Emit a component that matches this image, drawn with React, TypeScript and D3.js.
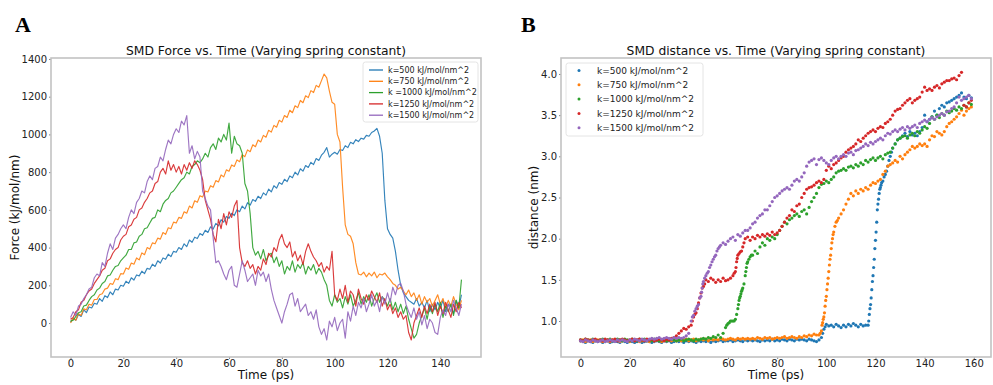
// App.tsx
import React, { useRef, useEffect } from "react";
import * as d3 from "d3";

const colors = ["#1f77b4", "#ff7f0e", "#2ca02c", "#d62728", "#9467bd"];

const forceLabels = [
  "k=500 kJ/mol/nm^2",
  "k=750 kJ/mol/nm^2",
  "k =1000 kJ/mol/nm^2",
  "k=1250 kJ/mol/nm^2",
  "k=1500 kJ/mol/nm^2",
];
const distLabels = [
  "k=500 kJ/mol/nm^2",
  "k=750 kJ/mol/nm^2",
  "k=1000 kJ/mol/nm^2",
  "k=1250 kJ/mol/nm^2",
  "k=1500 kJ/mol/nm^2",
];

const forceTicksX = [0, 20, 40, 60, 80, 100, 120, 140];
const forceTicksY = [0, 200, 400, 600, 800, 1000, 1200, 1400];
const distTicksX = [0, 20, 40, 60, 80, 100, 120, 140, 160];
const distTicksY = [1.0, 1.5, 2.0, 2.5, 3.0, 3.5, 4.0];

// force samples, one per ps from t = 0
const forceStep = 1;
const force500 = [
  5, 25, 15, 45, 35, 70, 55, 85, 80, 105,
  100, 130, 115, 145, 135, 165, 150, 180, 175, 200,
  195, 222, 210, 240, 228, 255, 250, 275, 262, 290,
  285, 312, 300, 330, 318, 345, 338, 365, 352, 380,
  375, 400, 390, 420, 405, 440, 428, 455, 448, 475,
  465, 492, 480, 510, 498, 528, 515, 548, 535, 565,
  555, 582, 570, 600, 590, 620, 605, 638, 625, 655,
  645, 672, 660, 690, 678, 710, 695, 728, 715, 745,
  735, 762, 750, 780, 770, 800, 785, 818, 805, 835,
  825, 852, 840, 872, 862, 890, 905, 930, 880, 895,
  905, 895, 920, 915, 940, 930, 958, 950, 972, 962,
  980, 975, 995, 990, 1010, 1018, 1032, 990, 900, 650,
  500, 470, 450, 380, 280, 200, 160, 140, 120, 110,
  100, 130, 90, 110, 80, 120, 60, 100, 70, 110,
  80, 120, 60, 100, 90, 50, 120, 80, 150,
];
const force750 = [
  0, 25, 15, 50, 40, 75, 70, 100, 95, 125,
  125, 150, 155, 180, 185, 210, 205, 235, 230, 262,
  260, 292, 285, 318, 312, 345, 335, 372, 362, 400,
  392, 425, 420, 450, 445, 480, 470, 505, 500, 535,
  530, 560, 555, 590, 582, 620, 610, 648, 640, 675,
  668, 700, 695, 728, 720, 755, 748, 785, 775, 812,
  805, 838, 830, 865, 855, 892, 882, 918, 908, 945,
  935, 970, 960, 995, 985, 1022, 1012, 1048, 1038, 1075,
  1065, 1100, 1090, 1128, 1115, 1152, 1142, 1180, 1168, 1205,
  1195, 1232, 1222, 1260, 1250, 1285, 1320, 1300, 1230, 1170,
  1160, 1000, 960, 720, 520, 470, 460, 420, 320, 260,
  255, 270, 245, 265, 250, 270, 240, 260, 255, 265,
  245, 230, 210, 200, 180, 190, 170, 150, 175, 140,
  160, 120, 150, 100, 140, 110, 130, 90, 120, 150,
  100, 130, 80, 120, 90, 140, 100, 70, 120,
];
const force1000 = [
  10, 15, 35, 55, 60, 90, 95, 120, 140, 150,
  175, 185, 210, 220, 250, 255, 280, 300, 305, 330,
  345, 360, 390, 390, 425, 430, 460, 470, 500, 505,
  530, 555, 560, 600, 590, 630, 650, 660, 690, 700,
  720, 740, 760, 770, 800, 790, 830, 840, 860, 850,
  870, 900, 880, 930, 950, 920, 980, 960, 1000, 970,
  1060, 900, 990, 950, 940, 900, 740, 700, 580, 400,
  360, 380, 340, 390, 330, 360, 370, 320, 350, 300,
  330, 260, 300, 280, 330, 270, 310, 290, 320, 260,
  300, 280, 310, 260, 290, 270, 230, 200, 120, 90,
  150, 110, 130, 80, 140, 100, 150, 90, 120, 160,
  100, 140, 110, 150, 90, 130, 160, 110, 140, 120,
  90, 130, 70, 110, 60, 100, 50, 90, 20, -30,
  -80, -60, 0, 40, 80, 20, 90, 50, 100, 60,
  110, 30, 90, 60, 100, 40, 120, 80, 230,
];
const force1250 = [
  20, 30, 60, 70, 110, 120, 150, 170, 180, 210,
  230, 250, 280, 290, 330, 340, 370, 390, 400, 440,
  460, 470, 510, 520, 550, 560, 600, 610, 640, 660,
  690, 700, 740, 750, 800, 820, 790, 860, 810, 840,
  800, 830, 790, 840, 810, 850, 820, 860, 840, 810,
  760, 650, 600, 550, 470, 430, 550, 500, 580, 520,
  590, 560, 620, 650, 400, 320, 300, 330, 290, 310,
  260, 300, 280, 340, 310, 370, 350, 400, 380, 440,
  470, 420, 400, 430, 350, 380, 330, 360, 310, 380,
  420, 380, 350, 330, 300, 320, 270, 300, 280, 380,
  150, 120, 180, 130, 200, 110, 170, 150, 90, 180,
  130, 100, 150, 120, 170, 140, 110, 160, 90, 130,
  70, 100, 50, 80, 30, 60, 20, 40, -50, -90,
  0, 40, 80, 30, 90, 50, 100, 60, 110, 40,
  90, 50, 110, 70, 30, 100, 60, 110, 80,
];
const force1500 = [
  30, 60, 40, 90, 100, 130, 150, 180, 190, 240,
  260, 250, 320, 300, 370, 420, 390, 450, 470, 500,
  520, 500, 560, 600, 580, 640, 660, 700, 690, 750,
  780, 760, 820, 830, 880, 860, 920, 970, 950, 1000,
  1030, 1010, 1070, 1050, 1100, 900, 940, 870, 910, 880,
  700, 660, 620, 600, 450, 320, 330, 300, 260, 230,
  280, 300, 200, 190, 260, 330, 280, 220, 240, 260,
  200, 280, 250, 270, 220, 260, 180, 120, 80, 40,
  0, 60, 100, 150, 160, 90, 130, 60, 80, 100,
  40, 60, 20, 70, -20, -60, -30, -90, 10, -20,
  30, -40, 0, 20, -80, 60, 10, 90, 40, 110,
  80, 130, 60, 100, 150, 90, 120, 60, 140, 100,
  160, 110, 190, 150, 200, 210, 170, 100, 60, 30,
  80, 20, 60, -10, 40, -30, 20, 0, -50, -60,
  30, 70, 40, 100, 60, 120, 80, 40, 100,
];

// distance samples, one per ps from t = 0, plus extra points on the steep parts
const distStep = 1;
const dist500 = [
  0.76, 0.75, 0.74, 0.76, 0.75, 0.74, 0.76, 0.75, 0.76, 0.74,
  0.75, 0.76, 0.74, 0.75, 0.76, 0.75, 0.74, 0.76, 0.75, 0.74,
  0.76, 0.75, 0.74, 0.75, 0.76, 0.74, 0.75, 0.76, 0.75, 0.74,
  0.75, 0.76, 0.75, 0.74, 0.76, 0.75, 0.76, 0.74, 0.75, 0.76,
  0.75, 0.76, 0.74, 0.76, 0.75, 0.76, 0.75, 0.74, 0.76, 0.75,
  0.76, 0.75, 0.76, 0.74, 0.76, 0.75, 0.76, 0.77, 0.75, 0.76,
  0.76, 0.77, 0.75, 0.76, 0.77, 0.76, 0.75, 0.77, 0.76, 0.77,
  0.76, 0.77, 0.76, 0.75, 0.77, 0.76, 0.77, 0.76, 0.78, 0.76,
  0.77, 0.76, 0.78, 0.77, 0.76, 0.78, 0.77, 0.76, 0.78, 0.77,
  0.78, 0.77, 0.76, 0.78, 0.77, 0.76, 0.75, 0.77, 0.8, 0.9,
  0.96, 0.94, 0.95, 0.93, 0.96, 0.94, 0.92, 0.95, 0.93, 0.96,
  0.94, 0.97, 0.95, 0.93, 0.96, 0.94, 0.95, 0.95, 1.2, 1.55,
  1.98, 2.42, 2.62, 2.7, 2.78, 2.88, 3.0, 3.1, 3.15, 3.2,
  3.22, 3.25, 3.28, 3.24, 3.3, 3.26, 3.28, 3.25, 3.3, 3.35,
  3.5, 3.42, 3.45, 3.48, 3.55, 3.5, 3.58, 3.62, 3.6, 3.65,
  3.66, 3.68, 3.7, 3.72, 3.74, 3.77, 3.72, 3.7, 3.74, 3.71,
];
const dist500Extra = [
  [98.5, 0.85], [99.5, 0.93], [117.25, 1.0], [117.5, 1.08], [117.75, 1.15],
  [118.25, 1.28], [118.5, 1.38], [118.75, 1.48], [119.25, 1.65], [119.5, 1.75],
  [119.75, 1.88], [120.25, 2.08], [120.5, 2.2], [120.75, 2.35], [121.25, 2.48],
  [121.5, 2.55], [121.75, 2.6], [122.25, 2.65], [122.5, 2.68], [123.5, 2.75],
  [124.5, 2.82], [125.5, 2.95], [126.5, 3.05],
];
const dist750 = [
  0.76, 0.77, 0.75, 0.76, 0.77, 0.75, 0.76, 0.77, 0.76, 0.75,
  0.77, 0.76, 0.75, 0.77, 0.76, 0.77, 0.75, 0.76, 0.77, 0.76,
  0.75, 0.77, 0.76, 0.77, 0.75, 0.76, 0.77, 0.76, 0.75, 0.77,
  0.76, 0.77, 0.76, 0.75, 0.77, 0.76, 0.77, 0.76, 0.77, 0.76,
  0.77, 0.76, 0.77, 0.78, 0.76, 0.77, 0.78, 0.76, 0.77, 0.78,
  0.77, 0.78, 0.76, 0.78, 0.77, 0.78, 0.77, 0.79, 0.78, 0.77,
  0.78, 0.79, 0.78, 0.77, 0.79, 0.78, 0.79, 0.78, 0.79, 0.78,
  0.79, 0.78, 0.8, 0.79, 0.78, 0.8, 0.79, 0.8, 0.78, 0.79,
  0.8, 0.79, 0.8, 0.81, 0.79, 0.8, 0.81, 0.8, 0.79, 0.81,
  0.8, 0.82, 0.81, 0.83, 0.82, 0.84, 0.83, 0.83, 0.88, 1.05,
  1.3, 1.6, 1.88, 2.08, 2.2, 2.25, 2.3, 2.35, 2.42, 2.48,
  2.55, 2.52, 2.58, 2.55, 2.6, 2.58, 2.62, 2.6, 2.65, 2.68,
  2.67, 2.7, 2.72, 2.78, 2.82, 2.88, 2.9, 2.92, 2.95, 2.93,
  3.0, 2.97, 3.02, 3.05, 3.08, 3.12, 3.1, 3.12, 3.15, 3.13,
  3.15, 3.12, 3.2, 3.25, 3.24, 3.3, 3.28, 3.26, 3.3, 3.36,
  3.4, 3.42, 3.45, 3.48, 3.52, 3.56, 3.5, 3.55, 3.58, 3.6,
];
const dist750Extra = [
  [97.5, 0.85], [98.25, 0.95], [98.5, 0.98], [98.75, 1.02], [99.25, 1.1],
  [99.5, 1.18], [99.75, 1.25], [100.25, 1.38], [100.5, 1.45], [100.75, 1.52],
  [101.25, 1.68], [101.5, 1.75], [101.75, 1.8], [102.25, 1.95], [102.5, 2.0],
  [102.75, 2.05], [103.5, 2.15], [104.5, 2.22],
];
const dist1000 = [
  0.77, 0.76, 0.78, 0.77, 0.76, 0.78, 0.77, 0.76, 0.77, 0.78,
  0.76, 0.77, 0.78, 0.76, 0.77, 0.78, 0.77, 0.76, 0.78, 0.77,
  0.76, 0.78, 0.77, 0.76, 0.78, 0.77, 0.78, 0.76, 0.77, 0.76,
  0.78, 0.77, 0.76, 0.77, 0.78, 0.76, 0.77, 0.78, 0.77, 0.76,
  0.77, 0.78, 0.76, 0.77, 0.78, 0.77, 0.76, 0.78, 0.77, 0.78,
  0.79, 0.78, 0.8, 0.79, 0.81, 0.8, 0.83, 0.8, 0.85, 0.92,
  0.97, 1.0, 1.0, 1.02, 1.15, 1.3, 1.4, 1.55, 1.72, 1.78,
  1.8, 1.85, 1.82, 1.9, 1.95, 1.92, 2.0, 1.98, 2.02, 2.0,
  2.05, 2.1, 2.15, 2.2, 2.18, 2.23, 2.25, 2.28, 2.3, 2.27,
  2.33, 2.35, 2.3, 2.38, 2.45, 2.5, 2.55, 2.62, 2.66, 2.67,
  2.7, 2.68, 2.72, 2.75, 2.8, 2.82, 2.83, 2.85, 2.83, 2.87,
  2.88, 2.86, 2.9, 2.88, 2.92, 2.9, 2.95, 2.93, 2.96, 2.98,
  2.95, 2.98, 3.0, 2.97, 3.02, 3.04, 3.05, 3.1, 3.15, 3.2,
  3.22, 3.24, 3.25, 3.22, 3.26, 3.28, 3.25, 3.3, 3.28, 3.32,
  3.36, 3.34, 3.4, 3.48, 3.45, 3.5, 3.47, 3.52, 3.5, 3.55,
  3.53, 3.55, 3.58, 3.56, 3.6, 3.58, 3.62, 3.6, 3.65, 3.63,
];
const dist1000Extra = [
  [59.5, 0.95], [60.5, 0.98], [61.5, 1.0], [62.5, 1.0], [63.5, 1.08],
  [64.25, 1.2], [64.5, 1.25], [64.75, 1.28], [65.25, 1.33], [65.5, 1.36],
  [65.75, 1.38], [66.5, 1.45], [67.25, 1.6], [67.5, 1.65], [67.75, 1.7],
  [68.5, 1.75], [69.5, 1.8],
];
const dist1250 = [
  0.77, 0.76, 0.78, 0.77, 0.76, 0.77, 0.78, 0.76, 0.77, 0.76,
  0.78, 0.77, 0.76, 0.77, 0.78, 0.76, 0.77, 0.78, 0.77, 0.76,
  0.77, 0.78, 0.76, 0.77, 0.78, 0.77, 0.76, 0.78, 0.77, 0.78,
  0.76, 0.77, 0.78, 0.77, 0.76, 0.78, 0.77, 0.79, 0.8, 0.82,
  0.85, 0.88, 0.91, 0.9, 0.93, 0.95, 1.05, 1.1, 1.22, 1.34,
  1.42, 1.5, 1.48, 1.52, 1.5, 1.47, 1.5, 1.48, 1.52, 1.49,
  1.5, 1.52, 1.55, 1.6, 1.8, 1.84, 1.9, 2.0, 2.02, 1.98,
  2.02, 2.0, 2.04, 2.02, 2.05, 2.03, 2.06, 2.04, 2.08, 2.05,
  2.07, 2.1, 2.15, 2.2, 2.25, 2.28, 2.35, 2.33, 2.4, 2.42,
  2.5, 2.55, 2.6, 2.62, 2.63, 2.65, 2.68, 2.7, 2.68, 2.72,
  2.83, 2.88, 2.85, 2.9, 2.92, 2.95, 2.98, 3.0, 3.05, 3.08,
  3.1, 3.12, 3.15, 3.2, 3.18, 3.22, 3.25, 3.28, 3.3, 3.32,
  3.3, 3.34, 3.36, 3.35, 3.4, 3.42, 3.45, 3.5, 3.55, 3.57,
  3.58, 3.62, 3.65, 3.68, 3.7, 3.65, 3.68, 3.7, 3.72, 3.78,
  3.84, 3.8, 3.82, 3.8, 3.84, 3.86, 3.83, 3.88, 3.9, 3.92,
  3.92, 3.94, 3.95, 3.93, 3.98, 4.02, 3.62, 3.6, 3.65, 3.68,
];
const dist1250Extra = [
  [45.5, 1.0], [46.5, 1.08], [47.5, 1.15], [48.5, 1.28], [49.5, 1.4],
  [50.5, 1.45], [62.5, 1.58], [63.25, 1.65], [63.5, 1.72], [63.75, 1.76],
  [64.5, 1.82], [65.5, 1.85], [66.5, 1.95],
];
const dist1500 = [
  0.76, 0.75, 0.77, 0.76, 0.75, 0.77, 0.76, 0.75, 0.76, 0.77,
  0.75, 0.76, 0.77, 0.76, 0.75, 0.77, 0.76, 0.77, 0.76, 0.75,
  0.77, 0.76, 0.78, 0.77, 0.76, 0.78, 0.77, 0.76, 0.78, 0.79,
  0.78, 0.79, 0.8, 0.78, 0.79, 0.8, 0.79, 0.78, 0.8, 0.79,
  0.8, 0.79, 0.8, 0.82, 0.85, 1.0, 1.07, 1.15, 1.2, 1.3,
  1.48, 1.55, 1.6, 1.68, 1.75, 1.8, 1.88, 1.92, 1.95, 1.93,
  1.97, 2.0, 2.02, 1.98, 2.05, 2.03, 2.07, 2.1, 2.1, 2.13,
  2.18, 2.2, 2.25, 2.28, 2.3, 2.35, 2.35, 2.4, 2.45, 2.5,
  2.52, 2.55, 2.58, 2.6, 2.62, 2.6, 2.65, 2.7, 2.72, 2.7,
  2.75, 2.8, 2.88, 2.93, 2.95, 2.97, 2.9, 2.96, 2.98, 2.95,
  2.92, 2.9, 2.95, 2.98, 3.0, 2.97, 3.0, 3.02, 3.0, 3.04,
  3.05, 3.02, 3.07, 3.08, 3.1, 3.12, 3.15, 3.13, 3.17, 3.15,
  3.18, 3.2, 3.22, 3.2, 3.25, 3.28, 3.27, 3.3, 3.32, 3.3,
  3.33, 3.35, 3.32, 3.36, 3.34, 3.36, 3.38, 3.35, 3.4, 3.42,
  3.44, 3.42, 3.45, 3.47, 3.45, 3.48, 3.5, 3.52, 3.5, 3.54,
  3.55, 3.58, 3.6, 3.65, 3.72, 3.68, 3.7, 3.72, 3.74, 3.7,
];
const dist1500Extra = [
  [45.5, 1.05], [46.5, 1.12], [47.5, 1.18], [48.5, 1.28], [49.25, 1.35],
  [49.5, 1.4], [49.75, 1.45], [50.5, 1.52], [51.5, 1.58], [52.5, 1.65],
  [53.5, 1.72], [54.5, 1.78], [55.5, 1.85], [56.5, 1.9],
];

const forceSeries = [force500, force750, force1000, force1250, force1500];
const distSeries = [dist500, dist750, dist1000, dist1250, dist1500];
const distExtras = [dist500Extra, dist750Extra, dist1000Extra, dist1250Extra, dist1500Extra];

const FONT = "DejaVu Sans, sans-serif";

type Frame = {
  left: number;
  top: number;
  right: number;
  bottom: number;
  xDomain: [number, number];
  yDomain: [number, number];
  xTicks: number[];
  yTicks: number[];
  yFormat: (d: number) => string;
  title: string;
  yLabel: string;
  yLabelX: number;
  letter: string;
  letterX: number;
};

// draws frame, ticks, labels; returns the scales
function drawFrame(svg: any, f: Frame) {
  const x = d3.scaleLinear().domain(f.xDomain).range([f.left, f.right]);
  const y = d3.scaleLinear().domain(f.yDomain).range([f.bottom, f.top]);

  svg
    .append("g")
    .attr("transform", `translate(0,${f.bottom})`)
    .call(d3.axisBottom(x).tickValues(f.xTicks).tickFormat(d3.format("d")).tickSize(2).tickPadding(1))
    .call((g: any) => g.select(".domain").remove())
    .call((g: any) => g.selectAll("line").attr("stroke", "#666").attr("stroke-width", 0.8))
    .call((g: any) =>
      g.selectAll("text").attr("fill", "#222").style("font-size", "10px").style("font-family", FONT)
    );

  svg
    .append("g")
    .attr("transform", `translate(${f.left},0)`)
    .call(d3.axisLeft(y).tickValues(f.yTicks).tickFormat(f.yFormat as any).tickSize(2).tickPadding(2))
    .call((g: any) => g.select(".domain").remove())
    .call((g: any) => g.selectAll("line").attr("stroke", "#666").attr("stroke-width", 0.8))
    .call((g: any) =>
      g.selectAll("text").attr("fill", "#222").style("font-size", "10px").style("font-family", FONT)
    );

  svg
    .append("rect")
    .attr("x", f.left)
    .attr("y", f.top)
    .attr("width", f.right - f.left)
    .attr("height", f.bottom - f.top)
    .attr("fill", "none")
    .attr("stroke", "#c2c2c2")
    .attr("stroke-width", 1.6);

  const cx = (f.left + f.right) / 2;
  svg
    .append("text")
    .attr("x", cx)
    .attr("y", 55)
    .attr("text-anchor", "middle")
    .style("font-family", FONT)
    .style("font-size", "12.3px")
    .attr("fill", "#111")
    .text(f.title);

  svg
    .append("text")
    .attr("x", cx)
    .attr("y", 379)
    .attr("text-anchor", "middle")
    .style("font-family", FONT)
    .style("font-size", "12px")
    .attr("fill", "#111")
    .text("Time (ps)");

  svg
    .append("text")
    .attr("transform", `translate(${f.yLabelX},${(f.top + f.bottom) / 2}) rotate(-90)`)
    .attr("text-anchor", "middle")
    .style("font-family", FONT)
    .style("font-size", "12px")
    .attr("fill", "#111")
    .text(f.yLabel);

  svg
    .append("text")
    .attr("x", f.letterX)
    .attr("y", 32)
    .style("font-family", "Liberation Serif, Times New Roman, serif")
    .style("font-weight", "bold")
    .style("font-size", "22px")
    .attr("fill", "#000")
    .text(f.letter);

  return { x, y };
}

const App = () => {
  const ref = useRef<SVGSVGElement>(null);

  useEffect(() => {
    const svg = d3.select(ref.current);
    svg.selectAll("*").remove();

    // ---- panel A: force lines
    const a = drawFrame(svg, {
      left: 51,
      top: 58,
      right: 481,
      bottom: 357,
      xDomain: [-7.4, 155.4],
      yDomain: [-180, 1405],
      xTicks: forceTicksX,
      yTicks: forceTicksY,
      yFormat: d3.format("d"),
      title: "SMD Force vs. Time (Varying spring constant)",
      yLabel: "Force (kJ/mol/nm)",
      yLabelX: 19,
      letter: "A",
      letterX: 15,
    });

    const line = d3
      .line<number>()
      .x((_, i) => a.x(i * forceStep))
      .y((d) => a.y(d));

    forceSeries.forEach((s, i) => {
      svg
        .append("path")
        .datum(s)
        .attr("fill", "none")
        .attr("stroke", colors[i])
        .attr("stroke-width", 1.15)
        .attr("stroke-opacity", 0.9)
        .attr("stroke-linejoin", "round")
        .attr("d", line);
    });

    const legA = svg.append("g").attr("transform", "translate(363,62)");
    legA
      .append("rect")
      .attr("width", 115)
      .attr("height", 60)
      .attr("rx", 2.5)
      .attr("fill", "#fff")
      .attr("fill-opacity", 0.85)
      .attr("stroke", "#ddd")
      .attr("stroke-width", 0.8);
    forceLabels.forEach((lab, i) => {
      const yy = 8 + i * 11.3;
      legA
        .append("line")
        .attr("x1", 6)
        .attr("x2", 20)
        .attr("y1", yy)
        .attr("y2", yy)
        .attr("stroke", colors[i])
        .attr("stroke-width", 1.3);
      legA
        .append("text")
        .attr("x", 25)
        .attr("y", yy + 2.8)
        .style("font-family", FONT)
        .style("font-size", "8px")
        .attr("fill", "#222")
        .text(lab);
    });

    // ---- panel B: distance scatter
    const b = drawFrame(svg, {
      left: 561,
      top: 58,
      right: 991,
      bottom: 357,
      xDomain: [-7.95, 167.0],
      yDomain: [0.563, 4.194],
      xTicks: distTicksX,
      yTicks: distTicksY,
      yFormat: d3.format(".1f"),
      title: "SMD distance vs. Time (Varying spring constant)",
      yLabel: "distance (nm)",
      yLabelX: 538,
      letter: "B",
      letterX: 521,
    });

    distSeries.forEach((s, i) => {
      const pts = s.map((v, j) => [j * distStep, v]).concat(distExtras[i]);
      svg
        .append("g")
        .selectAll("circle")
        .data(pts)
        .join("circle")
        .attr("cx", (d: number[]) => b.x(d[0]))
        .attr("cy", (d: number[]) => b.y(d[1]))
        .attr("r", 1.6)
        .attr("fill", colors[i]);
    });

    const legB = svg.append("g").attr("transform", "translate(566,63)");
    legB
      .append("rect")
      .attr("width", 137)
      .attr("height", 73)
      .attr("rx", 2.5)
      .attr("fill", "#fff")
      .attr("fill-opacity", 0.85)
      .attr("stroke", "#ddd")
      .attr("stroke-width", 0.8);
    distLabels.forEach((lab, i) => {
      const yy = 7.5 + i * 14.3;
      legB
        .append("circle")
        .attr("cx", 13)
        .attr("cy", yy)
        .attr("r", 1.5)
        .attr("fill", colors[i]);
      legB
        .append("text")
        .attr("x", 31)
        .attr("y", yy + 3.2)
        .style("font-family", FONT)
        .style("font-size", "9px")
        .attr("fill", "#222")
        .text(lab);
    });
  }, []);

  return (
    <svg
      ref={ref}
      width={993}
      height={385}
      style={{ position: "absolute", left: 0, top: 0, background: "#fff" }}
    />
  );
};

export default App;
